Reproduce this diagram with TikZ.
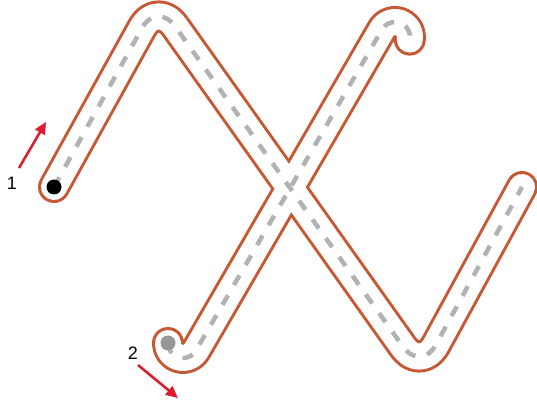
\documentclass[tikz,border=0pt]{standalone}
\usepackage{fontspec}
\setmainfont{Liberation Sans}
\usepackage{tikz}
\usetikzlibrary{arrows.meta}
\definecolor{trackorange}{RGB}{198,88,52}
\definecolor{dashgray}{RGB}{178,178,178}
\definecolor{dotgray}{RGB}{150,150,150}
\definecolor{arrowred}{RGB}{220,30,48}

\begin{document}
\begin{tikzpicture}[
    x=1pt, y=-1pt,
    outline/.style={draw=trackorange, line width=32pt, line cap=round, line join=round},
    inside/.style={draw=white, line width=26pt, line cap=round, line join=round},
    centerline/.style={draw=dashgray, line width=4.5pt, dash pattern=on 11pt off 12pt},
    startdot/.style={circle, inner sep=0pt, minimum size=15pt},
    hint/.style={draw=arrowred, line width=2.6pt, -{Triangle[length=12pt,width=11pt]}},
    number/.style={font=\fontsize{18}{20}\selectfont, inner sep=0pt},
  ]
  \useasboundingbox (0,0) rectangle (537,403);

  % Track points
  \coordinate (a1) at (54,187);
  \coordinate (a2) at (157,1);
  \coordinate (a3) at (421,372);
  \coordinate (a4) at (522,187);
  \coordinate (b1) at (168,343);
  \coordinate (b2) at (382,29.5);

  % Orange borders
  \draw[outline, rounded corners=31pt] (a1) -- (a2) -- (a3) -- (a4);
  \draw[outline] (b1) arc[start angle=180, end angle=30, radius=15]
    -- (b2) arc[start angle=210, end angle=370, radius=15];

  % White lanes
  \draw[inside, rounded corners=31pt] (a1) -- (a2) -- (a3) -- (a4);
  \draw[inside] (b1) arc[start angle=180, end angle=30, radius=15]
    -- (b2) arc[start angle=210, end angle=370, radius=15];

  % Dashed centre lines
  \draw[centerline, rounded corners=31pt] (a1) -- (a2) -- (a3) -- (a4);
  \draw[centerline] (b1) arc[start angle=180, end angle=30, radius=15]
    -- (b2) arc[start angle=210, end angle=370, radius=15];

  % Start dots
  \node[startdot, fill=black] (dot1) at (a1) {};
  \node[startdot, fill=dotgray] (dot2) at (b1) {};

  % Stroke numbers and directions
  \node[number] (num1) at (12,183) {1};
  \node[number] (num2) at (133,353) {2};
  \coordinate (tail1) at (19,168);
  \coordinate (tip1) at (46,122);
  \coordinate (tail2) at (138,365);
  \coordinate (tip2) at (178,398);
  \draw[hint] (tail1) -- (tip1);
  \draw[hint] (tail2) -- (tip2);
\end{tikzpicture}
\end{document}
